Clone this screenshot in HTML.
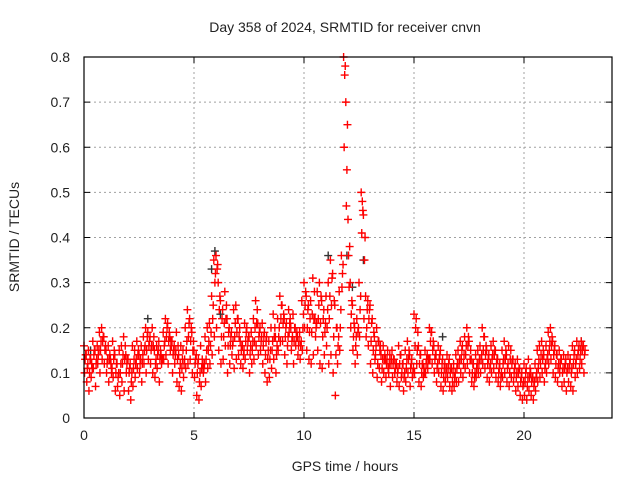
<!DOCTYPE html>
<html><head><meta charset="utf-8"><style>
body{margin:0;background:#fff;}
svg text{font-family:"Liberation Sans",sans-serif;font-size:14px;fill:#222;}
</style></head><body>
<svg id="chart" width="640" height="480" xmlns="http://www.w3.org/2000/svg">
<rect width="640" height="480" fill="#fff"/>
<g id="grid"></g>
<g id="ticks"></g>
<g id="marks"></g>
<rect x="84" y="57" width="528" height="361" fill="none" stroke="#000" stroke-width="1.2"/>
<text x="345" y="32" text-anchor="middle">Day 358 of 2024, SRMTID for receiver cnvn</text>
<text x="345" y="471" text-anchor="middle">GPS time / hours</text>
<text transform="translate(19,237) rotate(-90)" text-anchor="middle">SRMTID / TECUs</text>
</svg>
<script>
const xTicks=[0,5,10,15,20];
const yTicks=[0,0.1,0.2,0.3,0.4,0.5,0.6,0.7,0.8];
const yTickLabels=["0","0.1","0.2","0.3","0.4","0.5","0.6","0.7","0.8"];
const step=0.1;
const seriesA=[.16,.14,.15,.13,.17,.15,.16,.19,.2,.18, .15,.16,.13,.17,.14,.12,.15,.16,.18,.14, .13,.12,.16,.15,.17,.14,.16,.18,.2,.19, .18,.2,.15,.16,.17,.14,.19,.22,.21,.18, .17,.16,.19,.14,.16,.15,.2,.24,.22,.19, .15,.14,.13,.16,.12,.18,.2,.21,.27,.35, .36,.3,.26,.24,.28,.22,.2,.19,.24,.25, .22,.17,.16,.21,.2,.18,.19,.22,.26,.21, .2,.21,.19,.18,.17,.2,.23,.18,.22,.27, .25,.22,.21,.24,.2,.23,.2,.18,.19,.26, .3,.27,.25,.26,.31,.22,.28,.3,.26,.24, .27,.3,.35,.32,.25,.2,.28,.36,.8,.7, .44,.3,.25,.2,.22,.3,.5,.45,.27,.26, .25,.22,.18,.2,.17,.14,.16,.13,.15,.14, .15,.13,.12,.16,.14,.12,.15,.17,.14,.13, .23,.22,.16,.14,.12,.15,.14,.2,.19,.16, .14,.16,.15,.13,.12,.14,.13,.11,.12,.14, .15,.17,.16,.18,.2,.17,.13,.12,.14,.15, .16,.2,.18,.15,.14,.16,.17,.15,.13,.12, .15,.17,.14,.16,.15,.13,.12,.13,.11,.1, .12,.11,.13,.1,.09,.12,.15,.16,.17,.14, .16,.19,.2,.17,.16,.14,.15,.13,.14,.13, .14,.13,.16,.15,.17,.16,.17,.16];
const seriesB=[.1,.08,.06,.09,.11,.07,.12,.1,.13,.12, .1,.08,.12,.09,.06,.07,.05,.08,.06,.1, .06,.04,.07,.09,.11,.1,.08,.12,.1,.13, .12,.1,.09,.11,.08,.12,.13,.14,.12,.15, .1,.12,.08,.07,.06,.09,.11,.12,.13,.1, .09,.05,.04,.07,.1,.08,.11,.12,.14,.18, .2,.15,.12,.13,.16,.1,.12,.14,.11,.13, .14,.12,.11,.13,.15,.1,.12,.13,.16,.14, .15,.12,.1,.08,.09,.11,.13,.1,.15,.17, .17,.14,.12,.19,.15,.12,.16,.14,.13,.15, .2,.15,.13,.12,.14,.18,.15,.12,.11,.14, .16,.12,.14,.1,.05,.12,.15,.29,.6,.47, .36,.2,.15,.12,.14,.18,.41,.22,.18,.16, .12,.1,.13,.09,.11,.08,.1,.09,.11,.07, .09,.1,.08,.07,.09,.06,.08,.1,.07,.09, .1,.12,.08,.07,.09,.1,.11,.13,.12,.1, .08,.1,.07,.06,.08,.09,.07,.06,.07,.08, .08,.1,.09,.11,.12,.1,.08,.07,.09,.1, .1,.12,.11,.09,.08,.1,.11,.09,.08,.07, .09,.1,.08,.07,.09,.08,.06,.07,.05,.04, .05,.04,.06,.05,.04,.06,.08,.09,.1,.08, .1,.12,.13,.1,.09,.08,.1,.07,.08,.06, .08,.07,.06,.09,.1,.11,.12,.1];
const seriesC=[.13,.11,.1,.12,.14,.12,.14,.15,.17,.15, .12,.13,.1,.13,.1,.09,.1,.12,.13,.12, .1,.08,.11,.12,.14,.12,.12,.15,.15,.16, .15,.16,.12,.14,.13,.13,.16,.18,.17,.17, .14,.14,.13,.1,.11,.12,.15,.18,.17,.15, .12,.1,.08,.11,.11,.13,.15,.16,.22,.3, .33,.24,.18,.18,.22,.16,.16,.16,.18,.19, .18,.15,.14,.17,.17,.14,.15,.17,.21,.18, .17,.16,.14,.13,.13,.15,.18,.14,.18,.22, .21,.18,.16,.21,.17,.17,.18,.16,.16,.2, .25,.2,.19,.19,.22,.2,.22,.21,.18,.19, .2,.22,.25,.18,.14,.16,.2,.32,.76,.55, .29,.23,.18,.16,.19,.24,.48,.35,.2,.22, .17,.15,.14,.12,.15,.11,.13,.12,.1,.12, .12,.11,.1,.12,.1,.09,.11,.13,.11,.1, .16,.15,.12,.1,.11,.12,.13,.17,.15,.13, .11,.13,.1,.09,.1,.11,.1,.08,.09,.11, .12,.13,.12,.14,.16,.13,.1,.09,.11,.12, .13,.15,.14,.12,.11,.13,.14,.12,.1,.09, .12,.13,.11,.1,.12,.1,.09,.1,.08,.07, .08,.07,.09,.08,.07,.09,.11,.12,.13,.11, .13,.15,.16,.14,.12,.11,.12,.1,.11,.1, .11,.1,.12,.12,.14,.13,.15,.14];
const seriesD=[.14,.12,.13,.11,.15,.13,.15,.17,.18,.16, .13,.14,.11,.15,.12,.1,.12,.14,.16,.13, .11,.1,.13,.13,.15,.13,.14,.16,.18,.17, .16,.18,.13,.15,.15,.13,.17,.2,.19,.16, .15,.15,.16,.12,.13,.13,.17,.21,.2,.17, .13,.12,.1,.13,.12,.15,.17,.19,.25,.32, .34,.27,.22,.21,.25,.19,.18,.17,.21,.22, .2,.16,.15,.19,.18,.16,.17,.2,.24,.19, .18,.18,.17,.15,.15,.17,.2,.16,.2,.25, .23,.2,.18,.22,.18,.2,.19,.17,.17,.23, .28,.24,.22,.23,.28,.21,.25,.27,.22,.21, .24,.27,.31,.26,.2,.18,.24,.34,.78,.65, .38,.26,.21,.18,.2,.27,.46,.4,.24,.24, .21,.19,.16,.17,.16,.13,.14,.13,.12,.13, .13,.12,.11,.14,.12,.1,.13,.15,.12,.11, .2,.19,.14,.12,.1,.13,.13,.19,.17,.14, .12,.14,.12,.11,.11,.12,.11,.1,.1,.12, .13,.15,.14,.16,.18,.15,.12,.1,.12,.13, .14,.18,.16,.13,.12,.14,.15,.13,.11,.1, .13,.15,.12,.13,.13,.11,.1,.11,.09,.08, .1,.09,.11,.09,.08,.1,.13,.14,.15,.12, .14,.17,.18,.15,.14,.12,.13,.11,.12,.11, .12,.11,.14,.13,.15,.15,.16,.15];
const blackTimes=[0.3,2.9,5.8,5.95,6.2,11.1,11.95,12.2,12.7,16.3,22.6];
const blackValues=[.15,.22,.33,.37,.23,.36,.36,.29,.35,.18,.17];

const X0=84,X1=612,Y0=418,Y1=57,XMAX=24,YMAX=0.8;
const xs=v=>X0+(X1-X0)*v/XMAX;
const ys=v=>Y0-(Y0-Y1)*v/YMAX;
const NS="http://www.w3.org/2000/svg";
const grid=document.getElementById('grid'),ticks=document.getElementById('ticks'),marks=document.getElementById('marks');
function mk(tag,attrs,parent){const e=document.createElementNS(NS,tag);for(const k in attrs)e.setAttribute(k,attrs[k]);parent.appendChild(e);return e;}
yTicks.forEach((t,i)=>{
  const y=ys(t);
  if(t>0&&t<YMAX){const g=mk('line',{x1:X0,x2:X1,y1:y,y2:y,stroke:'#a0a0a0','stroke-dasharray':'2,3'},grid);
  
  }
  const tk=mk('path',{d:`M${X0},${y}h6M${X1},${y}h-6`,stroke:'#000'},ticks);
  
  
  const tx=mk('text',{x:X0-14,y:y+5,'text-anchor':'end'},ticks);tx.textContent=yTickLabels[i];
  
  
});
xTicks.forEach(t=>{
  const x=xs(t);
  if(t>0){const g=mk('line',{x1:x,x2:x,y1:Y1,y2:Y0,stroke:'#a0a0a0','stroke-dasharray':'2,3'},grid);
  
  }
  const tk=mk('path',{d:`M${x},${Y0}v-6M${x},${Y1}v6`,stroke:'#000'},ticks);
  
  
  const tx=mk('text',{x:x,y:Y0+22,'text-anchor':'middle'},ticks);tx.textContent=String(t);
  
  
});
function cross(x,y,c,name){
  const p=mk('path',{d:`M${x-4},${y}h8M${x},${y-4}v8`,stroke:c,'stroke-width':1.4},marks);
  
  
}
blackTimes.forEach((t,i)=>cross(xs(t),ys(blackValues[i]),'#333','black-point'));
[seriesA,seriesB,seriesC,seriesD].forEach((s,k)=>s.forEach((v,i)=>{
  const t=i*step+k*0.025;
  cross(xs(t),ys(v),'#ff0000','red-point');
}));
</script>
</body></html>
